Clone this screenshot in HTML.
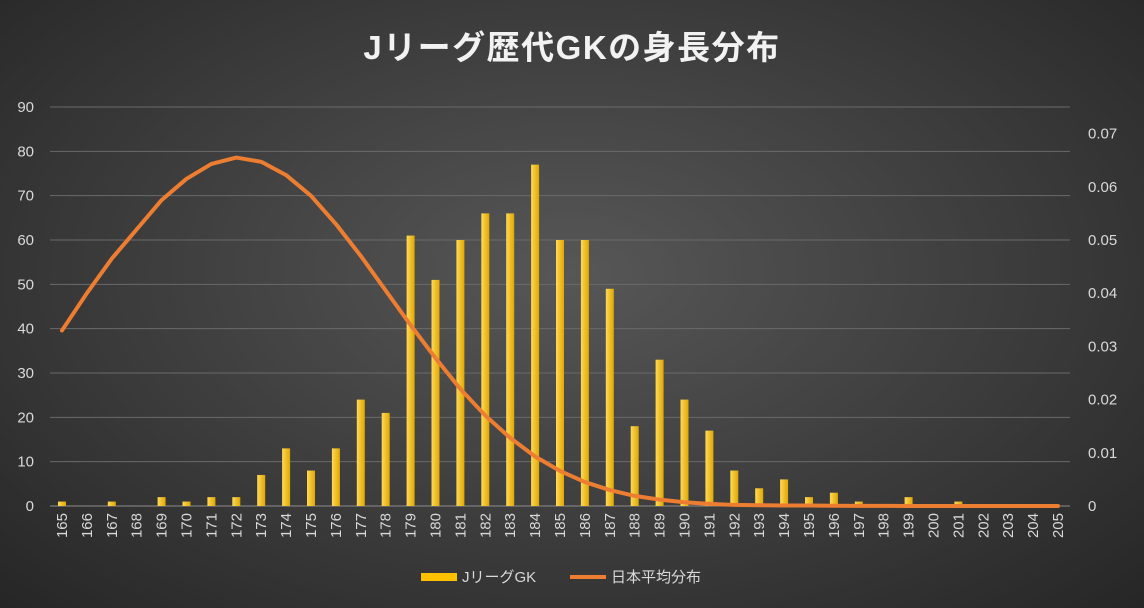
<!DOCTYPE html>
<html><head><meta charset="utf-8"><style>
body{margin:0;width:1144px;height:608px;overflow:hidden;font-family:"Liberation Sans","Noto Sans CJK JP",sans-serif}
#bg{position:absolute;left:0;top:0;width:1144px;height:608px;background:radial-gradient(ellipse at 50% 45%,#575757 0%,#3c3c3c 55%,#262626 100%)}
</style></head><body>
<div id="bg"></div>
<svg id="c" width="1144" height="608" style="position:absolute;left:0;top:0">
<defs><linearGradient id="bar" x1="0" x2="1"><stop offset="0" stop-color="#ffd95a"/><stop offset="1" stop-color="#e0a800"/></linearGradient></defs>
<text x="572" y="59" text-anchor="middle" fill="#f2f2f2" font-size="33" font-weight="bold" letter-spacing="1.5">Jリーグ歴代GKの身長分布</text>
<g id="grid"></g><g id="bars"></g><g id="line"></g><g id="axes"></g>
<g>
<rect x="421" y="573" width="36" height="8" fill="#ffc000"/>
<text x="462" y="582" fill="#d9d9d9" font-size="15">JリーグGK</text>
<line x1="570" y1="577" x2="606" y2="577" stroke="#ed7d31" stroke-width="4"/>
<text x="611" y="582" fill="#d9d9d9" font-size="15">日本平均分布</text>
</g>
</svg>
<script>
const categories=[];for(let h=165;h<=205;h++)categories.push(h);
const gkCounts=[1,0,1,0,2,1,2,2,7,13,8,13,24,21,61,51,60,66,66,77,60,60,49,18,33,24,17,8,4,6,2,3,1,0,2,0,1,0,0,0,0];
const japanDist=[0.033,0.040,0.0465,0.052,0.0575,0.0615,0.0643,0.0655,0.0647,0.0622,0.0583,0.053,0.047,0.0405,0.034,0.0278,0.022,0.017,0.0128,0.0093,0.0066,0.0045,0.003,0.0019,0.0012,0.0007,0.0004,0.0002,0.00015,0.0001,0.0001,0.00005,0.00003,0.00002,0.00001,0,0,0,0,0,0];
const leftTicks=[0,10,20,30,40,50,60,70,80,90];
const rightTicks=[0,0.01,0.02,0.03,0.04,0.05,0.06,0.07];
const NS="http://www.w3.org/2000/svg";
const x0=62,step=24.9,yB=506,yT=107;
const xs=i=>x0+i*step;
const yL=v=>yB-(v/90)*(yB-yT);
const yR=v=>yB-(v/0.075)*(yB-yT);
function mk(t,a,p){const e=document.createElementNS(NS,t);for(const k in a)e.setAttribute(k,a[k]);document.getElementById(p).appendChild(e);return e;}
leftTicks.forEach(v=>{
 const l=mk('line',{x1:50,x2:1070,y1:yL(v),y2:yL(v),stroke:v===0?'#8c8c8c':'#6a6a6a','stroke-width':1},'grid');
 
 
 const t=mk('text',{x:34,y:yL(v)+5,'text-anchor':'end',fill:'#d9d9d9','font-size':15},'axes');t.textContent=v;
 
 
});
rightTicks.forEach(v=>{
 const t=mk('text',{x:1088,y:yR(v)+5,fill:'#d9d9d9','font-size':15},'axes');t.textContent=v===0?'0':v.toFixed(2);
 
 
});
categories.forEach((c,i)=>{
 const h=yB-yL(gkCounts[i]);
 const b=mk('rect',{x:xs(i)-4,y:yL(gkCounts[i]),width:8,height:h,fill:'url(#bar)'},'bars');
 
 
 const t=mk('text',{x:0,y:0,'text-anchor':'end',fill:'#d9d9d9','font-size':15,transform:`translate(${xs(i)+5},${513}) rotate(-90)`},'axes');t.textContent=c;
 
 
});
const p=mk('polyline',{points:japanDist.map((v,i)=>xs(i)+','+yR(v)).join(' '),fill:'none',stroke:'#ed7d31','stroke-width':4,'stroke-linejoin':'round','stroke-linecap':'round'},'line');


</script>
</body></html>
